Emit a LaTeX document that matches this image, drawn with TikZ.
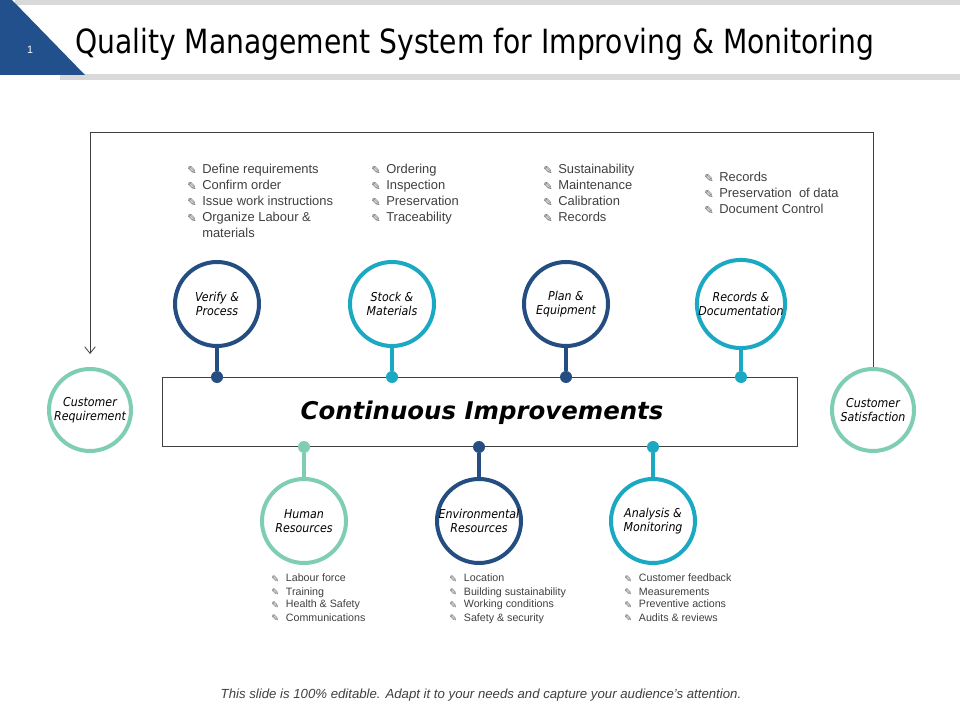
\documentclass[tikz,border=0pt]{standalone}
\usepackage{fontspec}
\setmainfont{Liberation Sans}
\newfontfamily\dvc{DejaVu Sans Condensed}
\newfontfamily\dvs{DejaVu Sans}
\usetikzlibrary{arrows.meta}
\definecolor{navyc}{HTML}{244E82}
\definecolor{cyanc}{HTML}{1BA8C3}
\definecolor{mintc}{HTML}{80CDB6}
\definecolor{hdrblue}{HTML}{21508D}
\definecolor{bandgray}{HTML}{D9D9D9}
\definecolor{txtgray}{HTML}{404040}
\definecolor{linegray}{HTML}{404040}
\definecolor{icongray}{HTML}{5A5A5A}
\newcommand{\penmark}{\makebox[11.25pt][l]{\raisebox{-0.3pt}{\dvs\fontsize{8.5}{8.5}\selectfont\textcolor{icongray}{✎}}}}
\newcommand{\penmarks}{\makebox[11pt][l]{\raisebox{-0.3pt}{\dvs\fontsize{7}{7}\selectfont\textcolor{icongray}{✎}}}}
\begin{document}
\begin{tikzpicture}[x=0.75pt,y=-0.75pt,
  ring/.style={circle, draw=#1, line width=3pt, minimum size=63pt, inner sep=0pt, fill=white,
     font=\dvc\itshape\fontsize{9.2}{10.5}\selectfont, align=center, text=black},
  sidering/.style={ring=#1, minimum size=61.5pt},
  dotc/.style={circle, fill=#1, minimum size=9pt, inner sep=0pt},
  stem/.style={line width=3pt, draw=#1},
  toplist/.style={anchor=north west, inner sep=0pt, align=left, text=txtgray,
     font=\fontsize{9.7}{12}\selectfont},
  botlist/.style={anchor=north west, inner sep=0pt, align=left, text=txtgray,
     font=\fontsize{8}{9.75}\selectfont},
  loopline/.style={draw=linegray, line width=0.6pt}
]
\useasboundingbox[fill=white] (0,0) rectangle (960,720);
% header
\fill[bandgray] (15,0) rectangle (960,5);
\fill[bandgray] (60,74) rectangle (960,80);
\fill[hdrblue] (0,0) -- (12,0) -- (85,75) -- (0,75) -- cycle;
\node[text=white, font=\fontsize{8}{8}\selectfont] (pnum) at (30,50) {1};
\node[anchor=west, inner sep=0pt, font=\dvc\fontsize{25}{25}\selectfont] (title) at (75,44)
  {\scalebox{0.94}[1]{Quality Management System for Improving \& Monitoring}};

% central box
\node[draw=linegray, line width=0.6pt, minimum width=476.25pt, minimum height=51.75pt, inner sep=0pt] (ci) at (479.75,411.5) {};
\node[font=\dvs\bfseries\itshape\fontsize{18.3}{18.3}\selectfont, inner sep=0pt] (cilabel) at (482,413) {Continuous Improvements};

% side circles
\node[sidering=mintc] (cr) at (90,410) {Customer\\Requirement};
\node[sidering=mintc] (cs) at (873,410) {Customer\\Satisfaction};
\coordinate (tr) at (873,132);
\coordinate (tl) at (90,132);
\coordinate (ae) at (90,354);
\draw[loopline] (cs.north) -- (tr) -- (tl);
\draw[loopline, -{Straight Barb[length=5pt,width=8pt]}] (tl) -- (ae);

% top circles
\node[ring=navyc] (c1) at (217,304) {Verify \&\\Process};
\node[ring=cyanc] (c2) at (392,304) {Stock \&\\Materials};
\node[ring=navyc] (c3) at (566,304) {Plan \&\\Equipment};
\node[ring=cyanc] (c4) at (741,304) {Records \&\\Documentation};
\node[dotc=navyc] (d1) at (217,377) {};
\node[dotc=cyanc] (d2) at (392,377) {};
\node[dotc=navyc] (d3) at (566,377) {};
\node[dotc=cyanc] (d4) at (741,377) {};
\draw[stem=navyc] (c1) -- (d1);
\draw[stem=cyanc] (c2) -- (d2);
\draw[stem=navyc] (c3) -- (d3);
\draw[stem=cyanc] (c4) -- (d4);

% bottom circles
\node[ring=mintc] (b1) at (304,521) {Human\\Resources};
\node[ring=navyc] (b2) at (479,521) {Environmental\\Resources};
\node[ring=cyanc] (b3) at (653,521) {Analysis \&\\Monitoring};
\node[dotc=mintc] (e1) at (304,447) {};
\node[dotc=navyc] (e2) at (479,447) {};
\node[dotc=cyanc] (e3) at (653,447) {};
\draw[stem=mintc] (e1) -- (b1);
\draw[stem=navyc] (e2) -- (b2);
\draw[stem=cyanc] (e3) -- (b3);

% top lists
\node[toplist] (l1) at (187,164) {\penmark Define requirements\\\penmark Confirm order\\\penmark Issue work instructions\\\penmark Organize Labour \&\\\hspace*{11.25pt}materials};
\node[toplist] (l2) at (371,164) {\penmark Ordering\\\penmark Inspection\\\penmark Preservation\\\penmark Traceability};
\node[toplist] (l3) at (543,164) {\penmark Sustainability\\\penmark Maintenance\\\penmark Calibration\\\penmark Records};
\node[toplist] (l4) at (704,172) {\penmark Records\\\penmark Preservation\ \ of data\\\penmark Document\ Control};

% bottom lists
\node[botlist] (m1) at (271,574) {\penmarks Labour force\\\penmarks Training\\\penmarks Health \& Safety\\\penmarks Communications};
\node[botlist] (m2) at (449,574) {\penmarks Location\\\penmarks Building sustainability\\\penmarks Working conditions\\\penmarks Safety \& security};
\node[botlist] (m3) at (624,574) {\penmarks Customer feedback\\\penmarks Measurements\\\penmarks Preventive actions\\\penmarks Audits \& reviews};

% footer
\node[text=txtgray, font=\itshape\fontsize{9.9}{9.9}\selectfont] (foot) at (481,695)
  {This slide is 100\% editable. Adapt it to your needs and capture your audience's attention.};
\end{tikzpicture}
\end{document}
